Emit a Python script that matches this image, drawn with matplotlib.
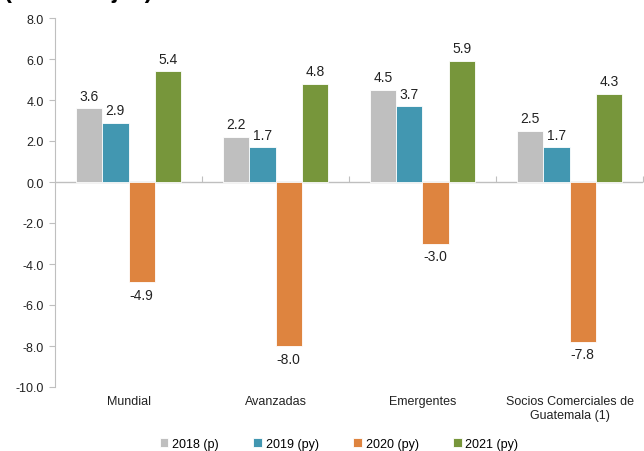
import matplotlib.pyplot as plt
import numpy as np

plt.rcParams['font.family'] = ['Liberation Sans', 'DejaVu Sans']

# Data
categories = ["Mundial", "Avanzadas", "Emergentes", "Socios Comerciales de\nGuatemala (1)"]
series_names = ["2018 (p)", "2019 (py)", "2020 (py)", "2021 (py)"]
values_2018 = [3.6, 2.2, 4.5, 2.5]
values_2019 = [2.9, 1.7, 3.7, 1.7]
values_2020 = [-4.9, -8.0, -3.0, -7.8]
values_2021 = [5.4, 4.8, 5.9, 4.3]
colors = ["#BFBFBF", "#4297B1", "#DE843F", "#77963B"]

fig = plt.figure(figsize=(6.44, 4.52), dpi=100)
ax = fig.add_axes([55 / 644, 1 - 388 / 452, 588 / 644, 369 / 452])

x = np.arange(len(categories))
width = 0.18
all_series = [values_2018, values_2019, values_2020, values_2021]
for i, (vals, name, col) in enumerate(zip(all_series, series_names, colors)):
    offs = (i - 1.5) * width
    bars = ax.bar(x + offs, vals, width, color=col, label=name,
                  edgecolor="white", linewidth=0.6, zorder=2)
    for b, v in zip(bars, vals):
        xc = b.get_x() + b.get_width() / 2
        if v >= 0:
            ax.annotate(f"{v:.1f}", (xc, v), xytext=(0, 4), textcoords="offset points",
                        ha="center", va="bottom", fontsize=10, color="#222222")
        else:
            ax.annotate(f"{v:.1f}", (xc, v), xytext=(0, -4), textcoords="offset points",
                        ha="center", va="top", fontsize=10, color="#222222")

ax.set_xlim(-0.5, 3.5)
ax.set_ylim(-10, 8)
ax.set_yticks(np.arange(-10, 8.1, 2))
ax.set_yticklabels([f"{t:.1f}" for t in np.arange(-10, 8.1, 2)], fontsize=9, color="#222222")
ax.set_xticks(x)
ax.set_xticklabels(categories, fontsize=9, color="#222222")
ax.tick_params(axis="x", length=0, pad=6)
ax.tick_params(axis="y", length=4, color="#BFBFBF", pad=4)

for s in ["top", "right", "bottom"]:
    ax.spines[s].set_visible(False)
ax.spines["left"].set_color("#BFBFBF")

# zero line with category separators
ax.axhline(0, color="#BFBFBF", linewidth=1, zorder=1)
sec = ax.secondary_xaxis(10 / 18)
sec.set_xticks([0.5, 1.5, 2.5, 3.5])
sec.set_xticklabels([])
sec.tick_params(length=4, direction="out", color="#BFBFBF")
for sp in sec.spines.values():
    sp.set_visible(False)

ax.legend(loc="upper center", bbox_to_anchor=(0.483, -0.108), ncol=4, frameon=False,
          fontsize=9, handlelength=0.7, handleheight=0.7, handletextpad=0.3,
          columnspacing=2.75)

fig.text(0.006, 1 + 2 / 452, "(Porcentajes)", fontsize=17, fontweight="bold",
         va="baseline", ha="left")

fig.savefig("out.png", dpi=100)
